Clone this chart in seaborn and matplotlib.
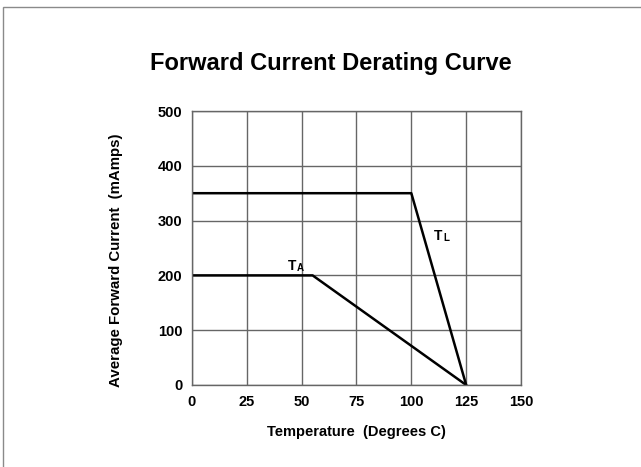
import pandas as pd
import matplotlib.pyplot as plt
import seaborn as sns
from matplotlib.patches import Rectangle

# derating curves
temp_tl = [0, 100, 125]
current_tl = [350, 350, 0]
temp_ta = [0, 55, 125]
current_ta = [200, 200, 0]
x_ticks = [0, 25, 50, 75, 100, 125, 150]
y_ticks = [0, 100, 200, 300, 400, 500]

df = pd.concat([
    pd.DataFrame({'temp': temp_tl, 'current': current_tl, 'curve': 'TL'}),
    pd.DataFrame({'temp': temp_ta, 'current': current_ta, 'curve': 'TA'}),
])

sns.set_theme(style="white")
plt.rcParams['font.family'] = ['Liberation Sans Narrow', 'Liberation Sans', 'DejaVu Sans']
plt.rcParams['text.color'] = 'black'
plt.rcParams['axes.labelcolor'] = 'black'

fig = plt.figure(figsize=(6.41, 4.67), dpi=100)
ax = fig.add_axes([0.2995, 0.1756, 0.5133, 0.5867])

sns.lineplot(data=df, x='temp', y='current', units='curve', estimator=None,
             sort=False, color='black', linewidth=1.8, ax=ax)

ax.set_xlim(0, 150)
ax.set_ylim(0, 500)
ax.set_xticks(x_ticks)
ax.set_yticks(y_ticks)
ax.grid(True, color='#666666', linewidth=1.0)
for s in ax.spines.values():
    s.set_color('#666666')
    s.set_linewidth(1.0)
ax.tick_params(length=0, labelsize=10.5, pad=7, colors='black')
for lab in ax.get_xticklabels() + ax.get_yticklabels():
    lab.set_fontweight('bold')

ax.set_xlabel('Temperature  (Degrees C)', fontsize=10.5, fontweight='bold', labelpad=12)
ax.set_ylabel('Average Forward Current  (mAmps)', fontsize=10.8, fontweight='bold')
ax.yaxis.set_label_coords(-0.21, 0.455)

ax.text(45.5, 205, 'T', fontsize=10, fontweight='bold', ha='center', va='bottom')
ax.text(47.8, 205, 'A', fontsize=7, fontweight='bold', ha='left', va='bottom')
ax.text(112.3, 259, 'T', fontsize=10, fontweight='bold', ha='center', va='bottom')
ax.text(114.6, 259, 'L', fontsize=7, fontweight='bold', ha='left', va='bottom')

fig.text(0.516, 0.865, 'Forward Current Derating Curve', fontsize=17,
         fontweight='bold', ha='center', va='center', family=['Liberation Sans', 'DejaVu Sans'])

fig.patches.append(Rectangle((3 / 641, -0.1), 1.2, 1 - 7 / 467 + 0.1,
                             transform=fig.transFigure, fill=False,
                             edgecolor='#8a8a8a', linewidth=1.0))

fig.savefig('out.png', dpi=100)
